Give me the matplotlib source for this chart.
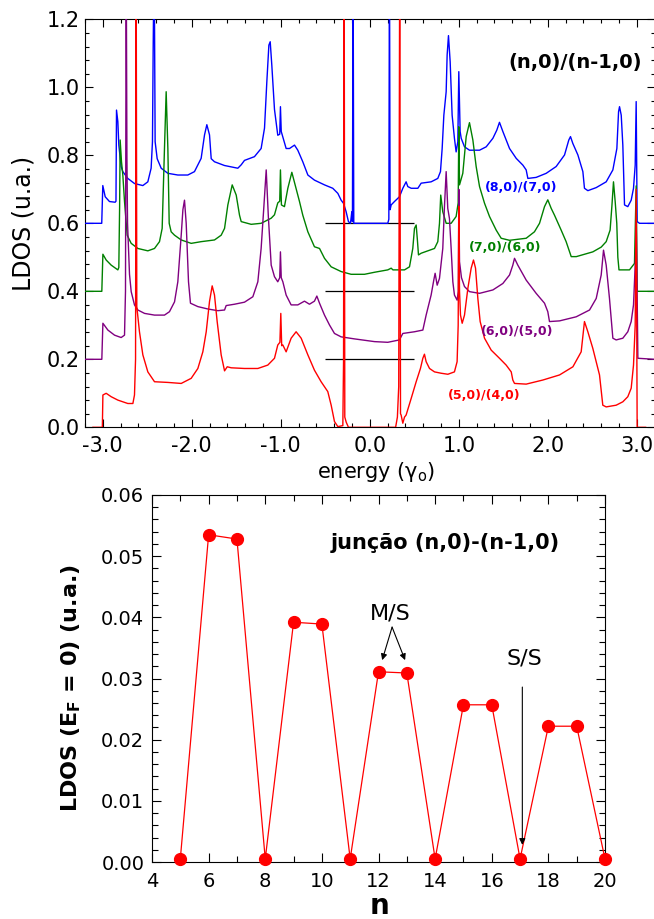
import matplotlib
matplotlib.use("Agg")
import matplotlib.pyplot as plt
from matplotlib.ticker import MultipleLocator, FormatStrFormatter

plt.rcParams["font.family"] = ["DejaVu Sans"]
plt.rcParams["axes.unicode_minus"] = False

# ---------------- LDOS of (n,0)/(n-1,0) junctions (top panel) ----------------
# energies in units of gamma_0, LDOS in arbitrary units (before vertical shift)
energy_8_7 = [-3.20, -3.012, -3.000, -2.973, -2.925, -2.861, -2.852, -2.846, -2.831, -2.820,
              -2.794, -2.775, -2.719, -2.644, -2.550, -2.494, -2.457, -2.442, -2.434, -2.423,
              -2.412, -2.389, -2.344, -2.269, -2.157, -2.045, -1.970, -1.895, -1.857, -1.831,
              -1.801, -1.782, -1.745, -1.633, -1.483, -1.445, -1.408, -1.296, -1.221, -1.183,
              -1.157, -1.134, -1.119, -1.101, -1.071, -1.034, -1.012, -1.004, -0.995, -0.940,
              -0.902, -0.846, -0.809, -0.753, -0.696, -0.622, -0.509, -0.416, -0.359, -0.322,
              -0.296, -0.266, -0.240, -0.217, -0.202, -0.195, -0.188, -0.180, -0.172, 0.202,
              0.214, 0.221, 0.228, 0.240, 0.277, 0.333, 0.371, 0.408, 0.427, 0.465,
              0.540, 0.577, 0.689, 0.764, 0.794, 0.813, 0.832, 0.858, 0.869, 0.884,
              0.903, 0.925, 0.951, 0.970, 0.989, 1.000, 1.015, 1.027, 1.064, 1.120,
              1.233, 1.308, 1.383, 1.427, 1.457, 1.495, 1.570, 1.645, 1.720, 1.757,
              1.776, 1.869, 1.982, 2.094, 2.188, 2.236, 2.255, 2.281, 2.338, 2.394,
              2.412, 2.450, 2.544, 2.656, 2.731, 2.776, 2.795, 2.806, 2.825, 2.843,
              2.862, 2.899, 2.937, 2.963, 2.982, 2.993, 3.004, 3.030, 3.20]
ldos_8_7 = [0.000, 0.000, 0.111, 0.078, 0.064, 0.062, 0.065, 0.333, 0.299, 0.230,
            0.167, 0.152, 0.132, 0.117, 0.111, 0.122, 0.162, 0.240, 0.515, 0.800,
            0.240, 0.190, 0.162, 0.147, 0.142, 0.142, 0.152, 0.191, 0.260, 0.290,
            0.260, 0.190, 0.181, 0.170, 0.162, 0.172, 0.185, 0.196, 0.220, 0.280,
            0.416, 0.524, 0.534, 0.465, 0.335, 0.259, 0.262, 0.343, 0.270, 0.220,
            0.220, 0.230, 0.215, 0.181, 0.142, 0.127, 0.113, 0.103, 0.088, 0.068,
            0.059, 0.034, 0.005, 0.000, 0.034, 0.005, 0.800, 0.000, 0.000, 0.000,
            0.012, 0.800, 0.040, 0.054, 0.064, 0.078, 0.103, 0.122, 0.108, 0.103,
            0.103, 0.118, 0.122, 0.132, 0.152, 0.220, 0.318, 0.387, 0.495, 0.552,
            0.475, 0.318, 0.250, 0.210, 0.240, 0.446, 0.270, 0.250, 0.225, 0.215,
            0.215, 0.225, 0.250, 0.274, 0.297, 0.270, 0.220, 0.191, 0.171, 0.157,
            0.132, 0.135, 0.147, 0.167, 0.201, 0.245, 0.255, 0.235, 0.201, 0.152,
            0.103, 0.096, 0.105, 0.122, 0.157, 0.220, 0.328, 0.343, 0.318, 0.230,
            0.054, 0.049, 0.068, 0.103, 0.171, 0.358, 0.005, 0.000, 0.000]

energy_7_6 = [-3.20, -3.011, -2.999, -2.962, -2.906, -2.831, -2.820, -2.811, -2.805, -2.790,
              -2.775, -2.756, -2.726, -2.681, -2.606, -2.494, -2.419, -2.363, -2.333, -2.307,
              -2.288, -2.269, -2.254, -2.232, -2.194, -2.119, -2.007, -1.895, -1.745, -1.670,
              -1.632, -1.595, -1.546, -1.501, -1.464, -1.445, -1.333, -1.221, -1.108, -1.071,
              -1.034, -1.012, -1.004, -0.993, -0.959, -0.921, -0.876, -0.839, -0.790, -0.753,
              -0.696, -0.622, -0.565, -0.509, -0.434, -0.322, -0.210, -0.060, 0.053, 0.202,
              0.240, 0.260, 0.390, 0.446, 0.483, 0.502, 0.521, 0.535, 0.547, 0.577,
              0.727, 0.764, 0.783, 0.797, 0.820, 0.858, 0.914, 0.970, 0.993, 1.000,
              1.008, 1.045, 1.083, 1.120, 1.158, 1.195, 1.233, 1.289, 1.345, 1.420,
              1.476, 1.570, 1.757, 1.850, 1.907, 1.963, 2.000, 2.038, 2.075, 2.150,
              2.206, 2.263, 2.320, 2.506, 2.600, 2.656, 2.700, 2.720, 2.738, 2.757,
              2.775, 2.787, 2.800, 2.918, 2.974, 2.993, 3.004, 3.20]
ldos_7_6 = [0.000, 0.000, 0.109, 0.092, 0.077, 0.063, 0.070, 0.250, 0.445, 0.381,
            0.342, 0.264, 0.165, 0.141, 0.126, 0.119, 0.126, 0.146, 0.185, 0.420,
            0.587, 0.420, 0.200, 0.175, 0.165, 0.151, 0.141, 0.146, 0.151, 0.165,
            0.185, 0.254, 0.313, 0.283, 0.224, 0.205, 0.197, 0.200, 0.215, 0.225,
            0.260, 0.265, 0.357, 0.254, 0.249, 0.303, 0.350, 0.313, 0.264, 0.224,
            0.175, 0.131, 0.126, 0.097, 0.072, 0.058, 0.050, 0.050, 0.056, 0.063,
            0.068, 0.063, 0.063, 0.072, 0.126, 0.185, 0.195, 0.150, 0.107, 0.112,
            0.126, 0.146, 0.200, 0.283, 0.234, 0.200, 0.200, 0.220, 0.260, 0.484,
            0.313, 0.347, 0.455, 0.496, 0.445, 0.367, 0.308, 0.259, 0.220, 0.180,
            0.156, 0.150, 0.156, 0.175, 0.200, 0.249, 0.269, 0.244, 0.224, 0.180,
            0.146, 0.102, 0.102, 0.116, 0.130, 0.146, 0.180, 0.250, 0.322, 0.264,
            0.200, 0.100, 0.063, 0.063, 0.082, 0.310, 0.000, 0.000]

energy_6_5 = [-3.20, -3.011, -2.999, -2.943, -2.868, -2.794, -2.756, -2.745, -2.737, -2.729,
              -2.722, -2.700, -2.681, -2.644, -2.606, -2.531, -2.419, -2.307, -2.251, -2.194,
              -2.157, -2.119, -2.100, -2.082, -2.063, -2.037, -2.015, -1.932, -1.820, -1.707,
              -1.632, -1.614, -1.520, -1.408, -1.314, -1.258, -1.221, -1.190, -1.164, -1.140,
              -1.108, -1.071, -1.034, -1.012, -1.004, -0.995, -0.977, -0.940, -0.884, -0.809,
              -0.734, -0.678, -0.622, -0.595, -0.565, -0.509, -0.453, -0.397, -0.322, -0.172,
              0.053, 0.202, 0.333, 0.371, 0.502, 0.596, 0.633, 0.689, 0.719, 0.734,
              0.757, 0.783, 0.820, 0.839, 0.858, 0.876, 0.895, 0.914, 0.933, 0.951,
              0.981, 0.995, 1.000, 1.008, 1.030, 1.064, 1.120, 1.233, 1.383, 1.495,
              1.570, 1.607, 1.626, 1.663, 1.757, 1.869, 1.963, 2.000, 2.019, 2.132,
              2.319, 2.469, 2.544, 2.600, 2.626, 2.656, 2.693, 2.731, 2.768, 2.843,
              2.899, 2.937, 2.963, 2.982, 2.995, 3.012, 3.20]
ldos_6_5 = [0.000, 0.000, 0.106, 0.086, 0.071, 0.064, 0.071, 0.200, 1.200, 0.596,
            0.400, 0.250, 0.199, 0.160, 0.145, 0.135, 0.130, 0.130, 0.140, 0.169,
            0.228, 0.365, 0.440, 0.468, 0.400, 0.228, 0.165, 0.155, 0.148, 0.143,
            0.145, 0.158, 0.162, 0.168, 0.184, 0.228, 0.326, 0.450, 0.557, 0.420,
            0.277, 0.243, 0.228, 0.240, 0.316, 0.240, 0.228, 0.189, 0.160, 0.160,
            0.171, 0.162, 0.171, 0.186, 0.165, 0.130, 0.101, 0.076, 0.066, 0.060,
            0.052, 0.050, 0.057, 0.076, 0.081, 0.086, 0.130, 0.189, 0.233, 0.253,
            0.218, 0.238, 0.326, 0.450, 0.552, 0.444, 0.414, 0.326, 0.228, 0.189,
            0.174, 0.200, 0.500, 0.287, 0.240, 0.214, 0.199, 0.194, 0.204, 0.223,
            0.248, 0.277, 0.297, 0.277, 0.233, 0.194, 0.165, 0.140, 0.111, 0.113,
            0.125, 0.145, 0.179, 0.248, 0.321, 0.277, 0.179, 0.062, 0.057, 0.062,
            0.081, 0.111, 0.160, 0.277, 0.400, 0.003, 0.000]

energy_5_4 = [-3.11, -3.005, -2.999, -2.962, -2.906, -2.831, -2.719, -2.662, -2.644, -2.632,
              -2.625, -2.618, -2.588, -2.550, -2.494, -2.419, -2.269, -2.119, -2.007, -1.932,
              -1.876, -1.838, -1.801, -1.771, -1.745, -1.715, -1.670, -1.632, -1.602, -1.557,
              -1.408, -1.258, -1.146, -1.071, -1.034, -1.010, -1.000, -0.990, -0.977, -0.940,
              -0.884, -0.828, -0.771, -0.696, -0.622, -0.547, -0.472, -0.434, -0.397, -0.359,
              -0.303, -0.295, -0.288, -0.281, -0.265, -0.240, 0.290, 0.310, 0.325, 0.336,
              0.345, 0.352, 0.371, 0.390, 0.408, 0.465, 0.521, 0.569, 0.596, 0.614,
              0.633, 0.671, 0.727, 0.802, 0.877, 0.951, 0.981, 0.993, 1.000, 1.008,
              1.019, 1.038, 1.064, 1.102, 1.139, 1.165, 1.188, 1.214, 1.240, 1.289,
              1.364, 1.457, 1.532, 1.589, 1.607, 1.626, 1.757, 1.944, 2.132, 2.282,
              2.375, 2.412, 2.450, 2.506, 2.581, 2.618, 2.656, 2.768, 2.843, 2.899,
              2.937, 2.963, 2.982, 2.993, 3.004, 3.100]
ldos_5_4 = [0.000, 0.000, 0.095, 0.100, 0.090, 0.080, 0.070, 0.070, 0.095, 0.200,
            1.400, 0.355, 0.281, 0.213, 0.163, 0.134, 0.132, 0.129, 0.144, 0.173,
            0.222, 0.281, 0.370, 0.416, 0.389, 0.311, 0.213, 0.166, 0.178, 0.175,
            0.173, 0.173, 0.183, 0.203, 0.242, 0.250, 0.335, 0.240, 0.242, 0.222,
            0.262, 0.281, 0.262, 0.213, 0.168, 0.134, 0.105, 0.065, 0.017, 0.002,
            0.005, 0.193, 1.400, 0.030, 0.015, 0.000, 0.000, 0.030, 0.120, 1.400,
            0.040, 0.036, 0.012, 0.030, 0.036, 0.085, 0.134, 0.173, 0.203, 0.215,
            0.193, 0.173, 0.163, 0.159, 0.156, 0.163, 0.193, 0.300, 0.650, 0.400,
            0.330, 0.306, 0.330, 0.409, 0.468, 0.492, 0.468, 0.379, 0.311, 0.262,
            0.227, 0.203, 0.183, 0.163, 0.139, 0.129, 0.127, 0.139, 0.154, 0.178,
            0.222, 0.311, 0.281, 0.232, 0.154, 0.065, 0.060, 0.065, 0.075, 0.090,
            0.115, 0.183, 0.300, 0.700, 0.000, 0.000]

junction_labels = ["(8,0)/(7,0)", "(7,0)/(6,0)", "(6,0)/(5,0)", "(5,0)/(4,0)"]
curve_offsets = [0.6, 0.4, 0.2, 0.0]

# ---------------- LDOS at the Fermi level vs n (bottom panel) ----------------
n_values = [5, 6, 7, 8, 9, 10, 11, 12, 13, 14, 15, 16, 17, 18, 19, 20]
ldos_fermi = [0.0005, 0.0535, 0.0528, 0.0005, 0.0392, 0.0389, 0.0005, 0.0311,
              0.0309, 0.0005, 0.0257, 0.0257, 0.0005, 0.0222, 0.0222, 0.0005]

W, H = 654, 919
fig = plt.figure(figsize=(W / 100, H / 100), dpi=100)


def px_axes(left, top, right, bottom):
    return fig.add_axes([left / W, 1 - bottom / H, (right - left) / W, (bottom - top) / H])


def style_axis(ax, size, pad_x, pad_y, maj, mnr):
    ax.tick_params(which="both", direction="in", top=True, right=True, width=0.8)
    ax.tick_params(which="major", length=maj)
    ax.tick_params(which="minor", length=mnr)
    ax.tick_params(axis="x", labelsize=size, pad=pad_x)
    ax.tick_params(axis="y", labelsize=size, pad=pad_y)
    for s in ax.spines.values():
        s.set_linewidth(0.8)


# ---- top panel ----
ax1 = px_axes(85, 19.3, 654.6, 427.3)
ax1.set_xlim(-3.2, 3.2)
ax1.set_ylim(0.0, 1.2)
ax1.xaxis.set_major_locator(MultipleLocator(1.0))
ax1.xaxis.set_minor_locator(MultipleLocator(0.2))
ax1.yaxis.set_major_locator(MultipleLocator(0.2))
ax1.yaxis.set_minor_locator(MultipleLocator(0.04))
ax1.xaxis.set_major_formatter(FormatStrFormatter("%.1f"))
ax1.yaxis.set_major_formatter(FormatStrFormatter("%.1f"))
style_axis(ax1, 15, 6, 3.6, 6, 3)

# zero reference of each shifted curve
ax1.hlines(curve_offsets[:3], -0.5, 0.5, color="black", lw=0.9, zorder=1.5)

curves = [(energy_8_7, ldos_8_7, "#0000ff"),
          (energy_7_6, ldos_7_6, "#008000"),
          (energy_6_5, ldos_6_5, "#800080"),
          (energy_5_4, ldos_5_4, "#ff0000")]
for (e, d, c), off in zip(curves, curve_offsets):
    ax1.plot(e, [v + off for v in d], color=c, lw=1.0, zorder=3)

ax1.text(3.053, 1.074, "(n,0)/(n-1,0)", ha="right", va="center",
         fontsize=14, fontweight="bold")
label_pos = [(1.705, 0.704), (1.517, 0.529), (1.656, 0.283), (1.289, 0.094)]
for lab, (x, y), (_, _, c) in zip(junction_labels, label_pos, curves):
    ax1.text(x, y, lab, color=c, ha="center", va="center", fontsize=9, fontweight="bold", zorder=4)

fig.text(23 / W, 1 - 223 / H, "LDOS (u.a.)", rotation=90, ha="center", va="center", fontsize=17)
fig.text(376.6 / W, 1 - 472 / H, r"energy ($\mathregular{\gamma_o}$)", ha="center", va="center", fontsize=15)

# ---- bottom panel ----
ax2 = px_axes(152, 495, 605, 862)
ax2.set_xlim(4, 20)
ax2.set_ylim(0.0, 0.06)
ax2.xaxis.set_major_locator(MultipleLocator(2))
ax2.xaxis.set_minor_locator(MultipleLocator(1))
ax2.yaxis.set_major_locator(MultipleLocator(0.01))
ax2.yaxis.set_minor_locator(MultipleLocator(0.002))
ax2.yaxis.set_major_formatter(FormatStrFormatter("%.2f"))
style_axis(ax2, 14, 7, 5.5, 6.5, 4)

ax2.plot(n_values, ldos_fermi, color="#ff0000", lw=0.9, marker="o", markersize=8.5,
         markerfacecolor="#ff0000", markeredgecolor="#ff0000", clip_on=False, zorder=3)

ax2.text(14.37, 0.0521, "junção (n,0)-(n-1,0)", ha="center", va="center",
         fontsize=15, fontweight="bold")
ax2.text(12.41, 0.0407, "M/S", ha="center", va="center", fontsize=16)
ax2.text(17.15, 0.0332, "S/S", ha="center", va="center", fontsize=16)
arrow = dict(arrowstyle="-|>", color="black", lw=0.8, mutation_scale=9, shrinkA=0, shrinkB=0)
ax2.annotate("", xy=(12.13, 0.0330), xytext=(12.48, 0.0384), arrowprops=arrow)
ax2.annotate("", xy=(12.94, 0.0330), xytext=(12.48, 0.0384), arrowprops=arrow)
ax2.annotate("", xy=(17.08, 0.0028), xytext=(17.08, 0.0286), arrowprops=arrow)

fig.text(71 / W, 1 - 688.5 / H, r"LDOS (E$_\mathbf{F}$ = 0) (u.a.)", rotation=90,
         ha="center", va="center", fontsize=16, fontweight="bold")
fig.text(380 / W, 1 - 906 / H, "n", ha="center", va="center", fontsize=20, fontweight="bold")

fig.savefig("out.png", dpi=100)
